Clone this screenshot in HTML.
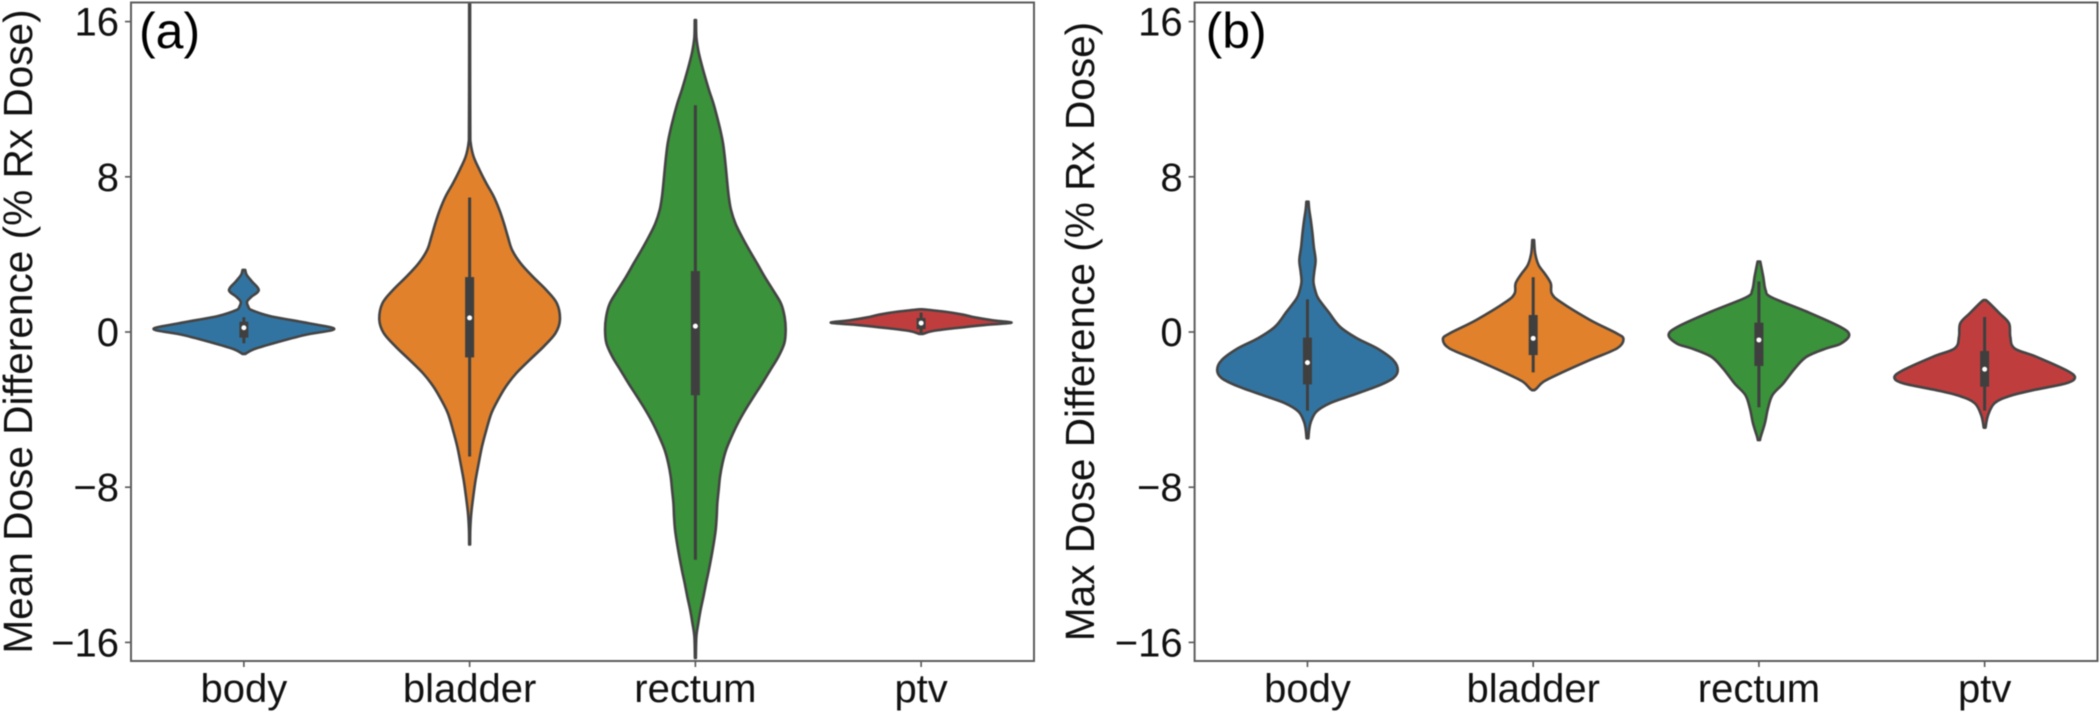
<!DOCTYPE html>
<html lang="en">
<head>
<meta charset="utf-8">
<title>Dose difference violin plots</title>
<style>
  html, body { margin: 0; padding: 0; background: #fff; }
  body { width: 2100px; height: 713px; overflow: hidden; }
  svg { display: block; filter: blur(0.55px); }
  text { font-family: "Liberation Sans", Arial, sans-serif; fill: #111; }
</style>
</head>
<body>
<svg id="chart" xmlns="http://www.w3.org/2000/svg" width="2100" height="713" viewBox="0 0 2100 713"></svg>
<script>
const categories = ["body", "bladder", "rectum", "ptv"];
const yTickValues = [16, 8, 0, -8, -16];
const yTickLabels = ["16", "8", "0", "\u22128", "\u221216"];
const fillColors = ["#3274a1", "#e1812c", "#3a923a", "#c03d3e"];

// Panel (a): mean dose difference, value grid + relative density (0..1)
const meanBodyValues = [3.2, 2.95, 2.6, 2.16, 1.8, 1.56, 1.3, 1.13, 0.82, 0.45, 0.15, -0.15, -0.58, -0.89, -1.13];
const meanBodyDensity = [0.015, 0.03, 0.09, 0.165, 0.08, 0.035, 0.05, 0.085, 0.29, 0.72, 1.0, 0.68, 0.33, 0.11, 0.015];
const meanBladderValues = [17.2, 14, 10.41, 9.73, 9.04, 8.35, 7.66, 7.0, 6.29, 5.6, 4.9, 4.23, 3.54, 2.85, 2.16, 1.47, 0.62, -0.07, -0.75, -1.44, -2.13, -2.82, -3.5, -4.2, -5.05, -5.9, -6.77, -7.63, -8.49, -9.35, -10.2, -10.95];
const meanBladderDensity = [0.005, 0.005, 0.007, 0.012, 0.044, 0.11, 0.185, 0.265, 0.33, 0.38, 0.424, 0.47, 0.565, 0.7, 0.85, 0.967, 1.0, 0.95, 0.82, 0.665, 0.516, 0.4, 0.314, 0.24, 0.185, 0.137, 0.1, 0.066, 0.04, 0.018, 0.007, 0.005];
const meanRectumValues = [16.08, 15.2, 14.5, 13.85, 13.16, 12.47, 11.78, 11.1, 10.4, 9.73, 9.04, 8.35, 7.66, 6.97, 6.29, 5.6, 4.9, 4.2, 3.54, 2.85, 2.16, 1.47, 0.79, 0.1, -0.58, -1.27, -1.96, -2.65, -3.33, -4.02, -4.71, -5.4, -6.08, -6.77, -7.46, -8.14, -8.83, -9.52, -10.2, -10.9, -11.6, -12.3, -12.96, -13.65, -14.3, -15.0, -15.7, -16.8];
const meanRectumDensity = [0.007, 0.011, 0.033, 0.066, 0.107, 0.151, 0.2, 0.24, 0.277, 0.306, 0.325, 0.34, 0.354, 0.37, 0.395, 0.443, 0.517, 0.6, 0.683, 0.767, 0.86, 0.948, 0.988, 1.0, 0.985, 0.92, 0.83, 0.74, 0.646, 0.553, 0.47, 0.4, 0.34, 0.3, 0.273, 0.258, 0.243, 0.236, 0.225, 0.203, 0.177, 0.148, 0.118, 0.089, 0.059, 0.033, 0.011, 0.005];
const meanPtvValues = [1.17, 1.05, 0.9, 0.75, 0.6, 0.48, 0.36, 0.2, 0.05, -0.1];
const meanPtvDensity = [0.02, 0.26, 0.46, 0.6, 0.8, 1.0, 0.7, 0.38, 0.13, 0.02];

// Panel (b): max dose difference
const maxBodyValues = [6.72, 6.29, 5.77, 5.1, 4.4, 3.7, 3.1, 2.6, 2.16, 1.73, 1.04, 0.27, -0.33, -0.84, -1.45, -1.96, -2.38, -2.8, -3.3, -3.67, -4.1, -4.6, -5.0, -5.48];
const maxBodyDensity = [0.012, 0.02, 0.037, 0.055, 0.07, 0.09, 0.075, 0.066, 0.085, 0.12, 0.232, 0.36, 0.55, 0.77, 0.95, 1.0, 0.95, 0.77, 0.47, 0.25, 0.1, 0.04, 0.02, 0.01];
const maxBladderValues = [4.74, 4.05, 3.45, 3.0, 2.5, 1.99, 1.56, 0.62, -0.07, -0.37, -0.84, -1.44, -2.13, -2.56, -2.9, -3.0];
const maxBladderDensity = [0.01, 0.022, 0.06, 0.13, 0.195, 0.205, 0.3, 0.63, 0.925, 1.0, 0.93, 0.63, 0.3, 0.115, 0.04, 0.012];
const maxRectumValues = [3.63, 2.85, 2.16, 1.79, 1.05, 0.27, -0.16, -0.62, -0.84, -1.27, -1.87, -2.65, -3.25, -3.94, -4.7, -5.4, -5.57];
const maxRectumDensity = [0.015, 0.048, 0.074, 0.14, 0.53, 0.9, 1.0, 0.9, 0.75, 0.53, 0.4, 0.27, 0.15, 0.1, 0.066, 0.02, 0.012];
const maxPtvValues = [1.65, 1.48, 0.96, 0.45, -0.24, -0.84, -1.27, -1.96, -2.34, -2.65, -3.0, -3.3, -3.67, -4.3, -4.93];
const maxPtvDensity = [0.012, 0.055, 0.166, 0.27, 0.284, 0.33, 0.57, 0.9, 1.0, 0.9, 0.535, 0.277, 0.11, 0.037, 0.01];

// Box statistics per category: body, bladder, rectum, ptv
const meanWhiskerLow = [-0.58, -6.42, -11.74, -0.05];
const meanQ1 = [-0.29, -1.31, -3.26, 0.15];
const meanMedian = [0.22, 0.73, 0.3, 0.46];
const meanQ3 = [0.53, 2.83, 3.14, 0.72];
const meanWhiskerHigh = [0.76, 6.93, 11.69, 1.0];

const maxWhiskerLow = [-4.06, -2.08, -3.88, -4.05];
const maxQ1 = [-2.7, -1.19, -1.75, -2.82];
const maxMedian = [-1.58, -0.33, -0.41, -1.92];
const maxQ3 = [-0.29, 0.876, 0.48, -0.98];
const maxWhiskerHigh = [1.68, 2.82, 2.6, 0.77];

const SVG_NS = "http://www.w3.org/2000/svg";
const root = document.getElementById("chart");
const TOP = 2.5, BOTTOM = 661;
const yScale = function (v) { return 332 - 19.4 * v; };

function node(tag, parent) {
  const el = document.createElementNS(SVG_NS, tag);
  parent.appendChild(el);
  return el;
}

function curveThrough(pts) {
  let d = "";
  for (let i = 0; i < pts.length - 1; i++) {
    const p0 = pts[Math.max(i - 1, 0)], p1 = pts[i], p2 = pts[i + 1], p3 = pts[Math.min(i + 2, pts.length - 1)];
    d += "C" + (p1[0] + (p2[0] - p0[0]) / 6).toFixed(2) + " " + (p1[1] + (p2[1] - p0[1]) / 6).toFixed(2) + " " +
         (p2[0] - (p3[0] - p1[0]) / 6).toFixed(2) + " " + (p2[1] - (p3[1] - p1[1]) / 6).toFixed(2) + " " +
         p2[0].toFixed(2) + " " + p2[1].toFixed(2);
  }
  return d;
}

function drawPanel(panel) {
  const band = (panel.right - panel.left) / categories.length;
  const xScale = function (i) { return panel.left + (i + 0.5) * band; };
  const halfWidth = function (density) { return density * 0.4 * band; };

  const group = node("g", root);
  
  

  const clip = node("clipPath", group);
  clip.setAttribute("id", panel.key + "-clip");
  const clipRect = node("rect", clip);
  clipRect.setAttribute("x", panel.left);
  clipRect.setAttribute("y", TOP);
  clipRect.setAttribute("width", panel.right - panel.left);
  clipRect.setAttribute("height", BOTTOM - TOP);

  const marks = node("g", group);
  marks.setAttribute("clip-path", "url(#" + panel.key + "-clip)");
  
  

  categories.forEach(function (cat, i) {
    const cx = xScale(i);
    const vals = panel.values[i], dens = panel.density[i];
    const right = vals.map(function (v, k) { return [cx + halfWidth(dens[k]), yScale(v)]; });
    const left = vals.map(function (v, k) { return [cx - halfWidth(dens[k]), yScale(v)]; }).reverse();
    const d = "M" + right[0][0].toFixed(2) + " " + right[0][1].toFixed(2) + curveThrough(right) +
              "L" + left[0][0].toFixed(2) + " " + left[0][1].toFixed(2) + curveThrough(left) + "Z";

    const violin = node("path", marks);
    
    
    violin.setAttribute("d", d);
    violin.setAttribute("fill", fillColors[i]);
    violin.setAttribute("stroke", "#444444");
    violin.setAttribute("stroke-width", "2.6");
    violin.setAttribute("stroke-linejoin", "round");

    const whisker = node("line", marks);
    
    
    whisker.setAttribute("x1", cx);
    whisker.setAttribute("x2", cx);
    whisker.setAttribute("y1", yScale(panel.whiskerHigh[i]));
    whisker.setAttribute("y2", yScale(panel.whiskerLow[i]));
    whisker.setAttribute("stroke", "#3f3f3f");
    whisker.setAttribute("stroke-width", "3");

    const box = node("rect", marks);
    
    
    box.setAttribute("x", cx - 4.5);
    box.setAttribute("width", 9);
    box.setAttribute("y", yScale(panel.q3[i]));
    box.setAttribute("height", yScale(panel.q1[i]) - yScale(panel.q3[i]));
    box.setAttribute("fill", "#3f3f3f");

    const median = node("circle", marks);
    
    
    median.setAttribute("cx", cx);
    median.setAttribute("cy", yScale(panel.median[i]));
    median.setAttribute("r", "2.5");
    median.setAttribute("fill", "#ffffff");

    const tick = node("line", group);
    
    
    tick.setAttribute("x1", cx);
    tick.setAttribute("x2", cx);
    tick.setAttribute("y1", BOTTOM);
    tick.setAttribute("y2", BOTTOM + 6);
    tick.setAttribute("stroke", "#555555");
    tick.setAttribute("stroke-width", "1.6");

    const label = node("text", group);
    
    
    label.setAttribute("x", cx);
    label.setAttribute("y", 702);
    label.setAttribute("text-anchor", "middle");
    label.setAttribute("font-size", "40");
    label.textContent = cat;
  });

  yTickValues.forEach(function (v, i) {
    const tick = node("line", group);
    
    
    tick.setAttribute("x1", panel.left - 6);
    tick.setAttribute("x2", panel.left);
    tick.setAttribute("y1", yScale(v));
    tick.setAttribute("y2", yScale(v));
    tick.setAttribute("stroke", "#555555");
    tick.setAttribute("stroke-width", "1.6");

    const label = node("text", group);
    
    
    label.setAttribute("x", panel.left - 12);
    label.setAttribute("y", yScale(v) + 14);
    label.setAttribute("text-anchor", "end");
    label.setAttribute("font-size", "40");
    label.textContent = yTickLabels[i];
  });

  const frame = node("rect", group);
  
  
  frame.setAttribute("x", panel.left);
  frame.setAttribute("y", TOP);
  frame.setAttribute("width", panel.right - panel.left);
  frame.setAttribute("height", BOTTOM - TOP);
  frame.setAttribute("fill", "none");
  frame.setAttribute("stroke", "#5c5c5c");
  frame.setAttribute("stroke-width", "2");

  const title = node("text", group);
  
  
  title.setAttribute("transform", "translate(" + panel.titleX + " 331.5) rotate(-90)");
  title.setAttribute("text-anchor", "middle");
  title.setAttribute("font-size", "40.6");
  title.textContent = panel.title;

  const tag = node("text", group);
  
  
  tag.setAttribute("x", panel.left + panel.tagOffset);
  tag.setAttribute("y", 48);
  tag.setAttribute("font-size", "50");
  tag.setAttribute("style", "fill:#000");
  tag.textContent = panel.tag;
}

drawPanel({
  key: "mean", tag: "(a)", title: "Mean Dose Difference (% Rx Dose)",
  left: 131, right: 1034, titleX: 32, tagOffset: 8,
  values: [meanBodyValues, meanBladderValues, meanRectumValues, meanPtvValues],
  density: [meanBodyDensity, meanBladderDensity, meanRectumDensity, meanPtvDensity],
  whiskerLow: meanWhiskerLow, q1: meanQ1, median: meanMedian, q3: meanQ3, whiskerHigh: meanWhiskerHigh
});
drawPanel({
  key: "max", tag: "(b)", title: "Max Dose Difference (% Rx Dose)",
  left: 1194.6, right: 2097.5, titleX: 1094, tagOffset: 11,
  values: [maxBodyValues, maxBladderValues, maxRectumValues, maxPtvValues],
  density: [maxBodyDensity, maxBladderDensity, maxRectumDensity, maxPtvDensity],
  whiskerLow: maxWhiskerLow, q1: maxQ1, median: maxMedian, q3: maxQ3, whiskerHigh: maxWhiskerHigh
});
</script>
</body>
</html>
